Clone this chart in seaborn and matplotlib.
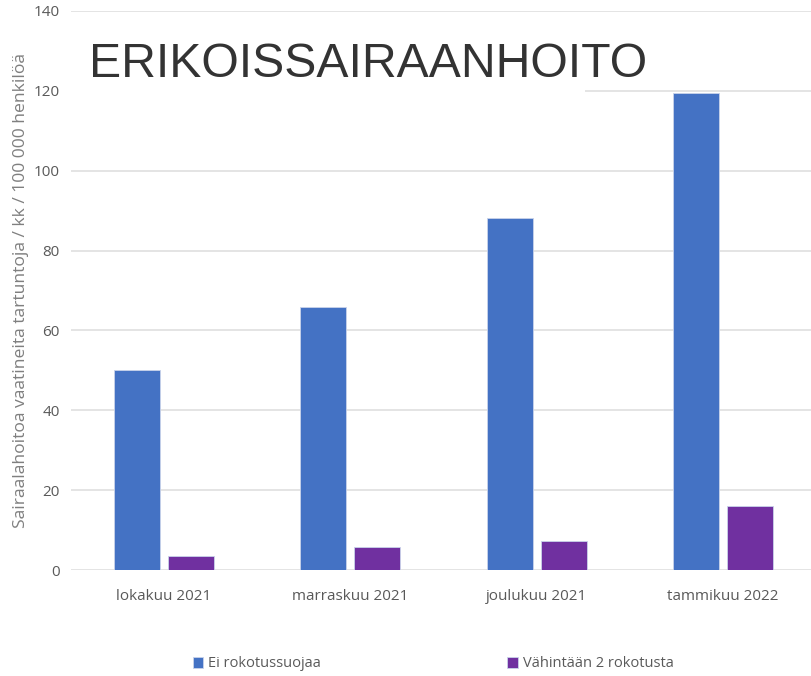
import matplotlib
matplotlib.use("Agg")
import matplotlib.pyplot as plt
import seaborn as sns
import pandas as pd
from matplotlib.patches import Rectangle

months = ["lokakuu 2021", "marraskuu 2021", "joulukuu 2021", "tammikuu 2022"]
unvaccinated = [50.1, 65.9, 88.2, 119.5]
vaccinated_2 = [3.5, 5.8, 7.3, 16.0]
series = ["Ei rokotussuojaa", "Vähintään 2 rokotusta"]
colors = ["#4472C4", "#7030A0"]

df = pd.DataFrame({
    "kuukausi": months * 2,
    "arvo": unvaccinated + vaccinated_2,
    "ryhma": [series[0]] * len(months) + [series[1]] * len(months),
})

sns.set_style("white")
plt.rcParams["font.family"] = ["Open Sans", "DejaVu Sans"]

fig = plt.figure(figsize=(8.11, 6.76), dpi=100)
ax = fig.add_axes([0.0873, 0.1568, 0.919, 0.827])

sns.barplot(data=df, x="kuukausi", y="arvo", hue="ryhma", palette=colors,
            order=months, hue_order=series, width=0.58, gap=0.15, saturation=1,
            edgecolor="#c9d3ea", linewidth=0.6, ax=ax, legend=True, zorder=3)

ax.set_ylim(0, 140)
ax.set_yticks(range(0, 141, 20))
ax.yaxis.grid(True, color="#dcdcdc", linewidth=1.1, zorder=0)
ax.set_axisbelow(True)
for s in ax.spines.values():
    s.set_visible(False)
ax.tick_params(axis="both", length=0, labelsize=11, labelcolor="#595959")
ax.tick_params(axis="x", pad=14)
ax.tick_params(axis="y", pad=8)
ax.set_xlabel("")
ax.set_ylabel("Sairaalahoitoa vaatineita tartuntoja / kk / 100 000 henkilöä",
              fontsize=12.6, color="#7f7f7f", labelpad=3)

# white box behind the title hides part of the 120 gridline
fig.patches.append(Rectangle((0.085, 0.85), 0.636, 0.12, transform=fig.transFigure,
                             facecolor="white", edgecolor="none", zorder=5))
fig.text(0.11, 0.886, "ERIKOISSAIRAANHOITO", fontsize=34.7, color="#333333",
         family="Liberation Sans", zorder=6)

handles, labels = ax.get_legend_handles_labels()
ax.get_legend().remove()
fig.legend(handles, labels, loc="center", bbox_to_anchor=(0.534, 0.018), ncol=2,
           frameon=False, fontsize=10.5, labelcolor="#595959", columnspacing=12.8,
           handlelength=0.75, handleheight=0.75, handletextpad=0.3)

fig.savefig("out.png", dpi=100)
plt.close()
